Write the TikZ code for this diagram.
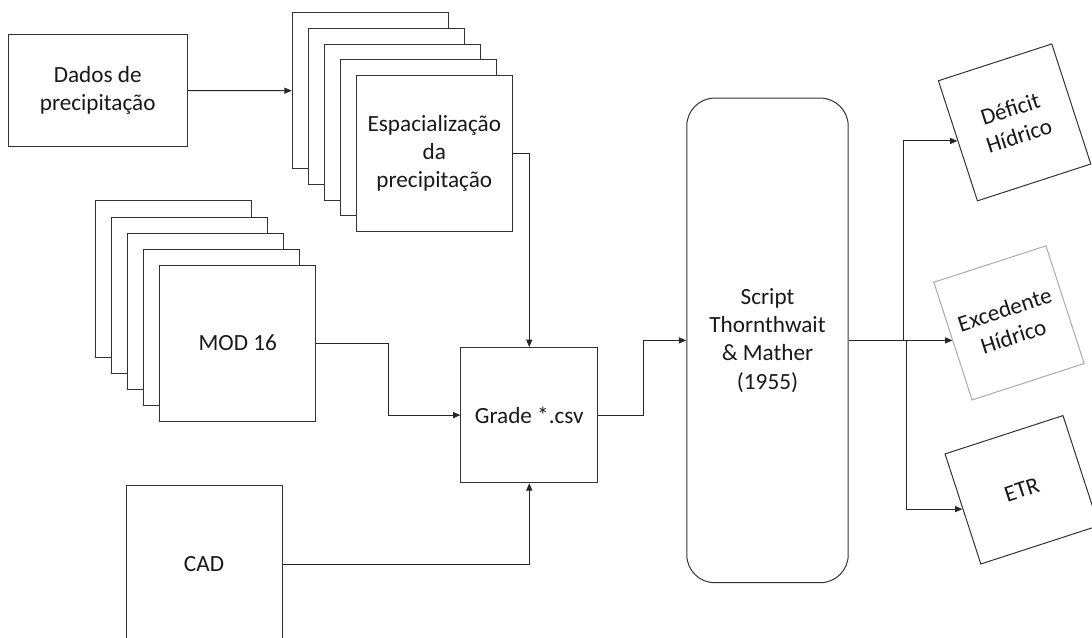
\documentclass[tikz,border=0pt]{standalone}
\usepackage{fontspec}
\setmainfont{Carlito}
\usetikzlibrary{arrows.meta}
\definecolor{excgray}{RGB}{170,170,170}
\tikzset{
  box/.style={draw=black!80, line width=0.75pt, fill=white, inner sep=0pt, align=center,
    font=\fontsize{17.4}{21.2}\selectfont, text=black!90},
  link/.style={draw=black!85, line width=0.75pt, -{Triangle[length=5.5pt,width=4.5pt]}},
}
\begin{document}
\begin{tikzpicture}[x=0.75pt,y=-0.75pt]
  \newcommand{\side}{117pt}
  \newcommand{\shiftx}{16}
  \newcommand{\shifty}{15.7}
  \useasboundingbox (0,0) rectangle (1092,638);
  % inputs
  \node[box, minimum width=134pt, minimum height=84pt] (dados) at (97.7,90.7) {Dados de\\precipitação};
  \node[box, minimum width=\side, minimum height=\side] (esp4) at (434.3-4*\shiftx,153.5-4*\shifty) {};
  \node[box, minimum width=\side, minimum height=\side] (esp3) at (434.3-3*\shiftx,153.5-3*\shifty) {};
  \node[box, minimum width=\side, minimum height=\side] (esp2) at (434.3-2*\shiftx,153.5-2*\shifty) {};
  \node[box, minimum width=\side, minimum height=\side] (esp1) at (434.3-\shiftx,153.5-\shifty) {};
  \node[box, minimum width=\side, minimum height=\side] (esp) at (434.3,153.5) {Espacialização\\da\\precipitação};
  \node[box, minimum width=\side, minimum height=\side] (mod4) at (237.7-4*\shiftx,343-4*\shiftx) {};
  \node[box, minimum width=\side, minimum height=\side] (mod3) at (237.7-3*\shiftx,343-3*\shiftx) {};
  \node[box, minimum width=\side, minimum height=\side] (mod2) at (237.7-2*\shiftx,343-2*\shiftx) {};
  \node[box, minimum width=\side, minimum height=\side] (mod1) at (237.7-\shiftx,343-\shiftx) {};
  \node[box, minimum width=\side, minimum height=\side] (mod) at (237.7,343) {MOD 16};
  \node[box, minimum width=\side, minimum height=118.5pt] (cad) at (204,564) {CAD};
  \node[box, minimum width=102.4pt, minimum height=101.4pt] (grade) at (529.25,415.1) {Grade *.csv};
  % balance
  \node[box, rounded corners=21pt, minimum width=121.1pt, minimum height=363.5pt] (script) at (767.5,340.4)
    {Script\\Thornthwait\\\& Mather\\(1955)};
  % outputs
  \node[box, rotate=18, minimum width=89.4pt, minimum height=94.7pt] (deficit) at (1014.6,122.4) {Déficit\\Hídrico};
  \node[box, draw=excgray, rotate=18, minimum width=88.4pt, minimum height=92.8pt] (excedente) at (1009,322.9) {Excedente\\Hídrico};
  \node[box, rotate=18, minimum width=93pt, minimum height=86.8pt] (etr) at (1021.9,489.8) {ETR};
  \draw[link] (dados.east) -- (esp4.west);
  \draw[link] (esp.east) -| (grade.north);
  \draw[link] (mod.east) -- ++(72,0) |- (grade.west);
  \draw[link] (cad.east) -| (grade.south);
  \draw[link] (grade.east) -- ++(45,0) |- (script.west);
  \draw[link] (script.east) -- ++(55,0) |- (deficit.west);
  \draw[link] (script.east) -- (script.east -| excedente.west);
  \draw[link] (script.east) -- ++(58,0) |- (etr.west);
\end{tikzpicture}
\end{document}
